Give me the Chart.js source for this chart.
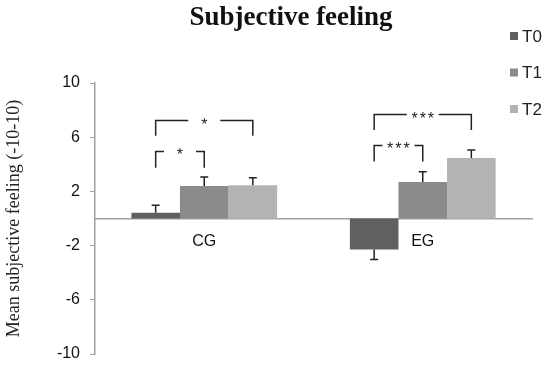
<!DOCTYPE html>
<html>
<head>
<meta charset="utf-8">
<script src="https://cdn.jsdelivr.net/npm/chart.js@4.4.1/dist/chart.umd.min.js"></script>
<style>
  html, body { margin: 0; padding: 0; background: #ffffff; }
  #wrap { width: 550px; height: 366px; }
</style>
</head>
<body>
<div id="wrap"><canvas id="c" width="550" height="366"></canvas></div>
<script>
// ---- data ----
const chartTitle = 'Subjective feeling';
const yAxisTitle = 'Mean subjective feeling (-10-10)';
const categories = ['CG', 'EG'];
const seriesNames = ['T0', 'T1', 'T2'];
const valuesT0 = [0.42, -2.28];
const valuesT1 = [2.4, 2.7];
const valuesT2 = [2.45, 4.46];
const errorsT0 = [0.55, 0.75];
const errorsT1 = [0.67, 0.75];
const errorsT2 = [0.55, 0.6];
const seriesColors = ['#606060', '#8b8b8b', '#b3b3b3'];
const yMin = -10, yMax = 10, yStep = 4;
// significance brackets (category index, from series, to series, top value, leg bottom value, label)
const bracketCategory = [0, 0, 1, 1];
const bracketFrom = [0, 0, 0, 0];
const bracketTo = [1, 2, 1, 2];
const bracketTop = [4.95, 7.23, 5.39, 7.67];
const bracketBottom = [3.75, 6.1, 4.2, 6.54];
const bracketLabels = ['*', '*', '***', '***'];

const valueSets = [valuesT0, valuesT1, valuesT2];
const errorSets = [errorsT0, errorsT1, errorsT2];

const errorBarPlugin = {
  id: 'errorBars',
  afterDatasetsDraw(chart) {
    const ctx = chart.ctx;
    const y = chart.scales.y;
    ctx.save();
    ctx.strokeStyle = '#222222';
    ctx.lineWidth = 1.5;
    chart.data.datasets.forEach((ds, i) => {
      const meta = chart.getDatasetMeta(i);
      meta.data.forEach((bar, j) => {
        const v = ds.data[j];
        const e = errorSets[i][j];
        const end = v >= 0 ? v + e : v - e;
        const y0 = y.getPixelForValue(v);
        const y1 = y.getPixelForValue(end);
        ctx.beginPath();
        ctx.moveTo(bar.x, y0);
        ctx.lineTo(bar.x, y1);
        ctx.moveTo(bar.x - 4, y1);
        ctx.lineTo(bar.x + 4, y1);
        ctx.stroke();
      });
    });
    // brackets
    ctx.font = '16px "Liberation Sans", Arial, sans-serif';
    ctx.fillStyle = '#222222';
    ctx.textAlign = 'center';
    ctx.textBaseline = 'alphabetic';
    for (let k = 0; k < bracketLabels.length; k++) {
      const c = bracketCategory[k];
      const xa = chart.getDatasetMeta(bracketFrom[k]).data[c].x;
      const xb = chart.getDatasetMeta(bracketTo[k]).data[c].x;
      const yt = y.getPixelForValue(bracketTop[k]);
      const yb = y.getPixelForValue(bracketBottom[k]);
      const xm = (xa + xb) / 2;
      const label = bracketLabels[k];
      const tw = ctx.measureText(label).width + 2 * (label.length - 1);
      const gap = Math.max(tw + 8, 32);
      ctx.beginPath();
      ctx.moveTo(xa, yb);
      ctx.lineTo(xa, yt);
      ctx.lineTo(xm - gap / 2, yt);
      ctx.moveTo(xm + gap / 2, yt);
      ctx.lineTo(xb, yt);
      ctx.lineTo(xb, yb);
      ctx.stroke();
      const chars = label.split('');
      const cw = ctx.measureText('*').width + 2;
      const start = xm - (chars.length - 1) * cw / 2;
      chars.forEach((ch, n) => ctx.fillText(ch, start + n * cw, yt + 9));
    }
    ctx.restore();
  },
  afterDraw(chart) {
    const ctx = chart.ctx;
    ctx.save();
    ctx.font = 'bold 27px "Liberation Serif", "Times New Roman", serif';
    ctx.fillStyle = '#111111';
    ctx.textAlign = 'center';
    ctx.textBaseline = 'alphabetic';
    ctx.fillText(chartTitle, 291, 25);
    ctx.font = '17px "Liberation Sans", Arial, sans-serif';
    ctx.textAlign = 'left';
    ctx.textBaseline = 'middle';
    chart.data.datasets.forEach((ds, i) => {
      const cy = 36 + i * 36.5;
      ctx.fillStyle = ds.backgroundColor;
      ctx.fillRect(510, cy - 4, 8, 8);
      ctx.fillStyle = '#222222';
      ctx.fillText(ds.label, 522, cy + 1);
    });
    ctx.restore();
  }
};

new Chart(document.getElementById('c'), {
  type: 'bar',
  data: {
    labels: categories,
    datasets: seriesNames.map((name, i) => ({
      label: name,
      data: valueSets[i],
      backgroundColor: seriesColors[i],
      borderWidth: 0,
      categoryPercentage: 0.667,
      barPercentage: 1.0
    }))
  },
  options: {
    responsive: false,
    devicePixelRatio: 1,
    animation: false,
    layout: { padding: { top: 83, bottom: 12, right: 18, left: 0 } },
    plugins: {
      legend: { display: false },
      title: { display: false },
      tooltip: { enabled: false }
    },
    scales: {
      x: {
        position: { y: 0 },
        afterFit(scale) { scale.height = 0; scale.paddingBottom = 0; scale.paddingTop = 0; },
        grid: { display: false, drawTicks: false },
        border: { display: true, color: '#a0a0a0', width: 1.5 },
        ticks: {
          color: '#111111',
          padding: 13,
          font: { family: '"Liberation Sans", Arial, sans-serif', size: 16 }
        }
      },
      y: {
        min: yMin,
        max: yMax,
        afterFit(scale) { scale.width = 95; scale.paddingBottom = 0; scale.paddingTop = 0; },
        grid: { display: true, drawOnChartArea: false, drawTicks: true, tickLength: 5, color: '#a0a0a0' },
        border: { display: true, color: '#a0a0a0', width: 1.5 },
        ticks: {
          stepSize: yStep,
          padding: 10,
          color: '#111111',
          font: { family: '"Liberation Sans", Arial, sans-serif', size: 16 }
        },
        title: {
          display: true,
          text: yAxisTitle,
          color: '#222222',
          padding: { top: 3, bottom: 0 },
          font: { family: '"Liberation Serif", "Times New Roman", serif', size: 18 }
        }
      }
    }
  },
  plugins: [errorBarPlugin]
});
</script>
</body>
</html>
